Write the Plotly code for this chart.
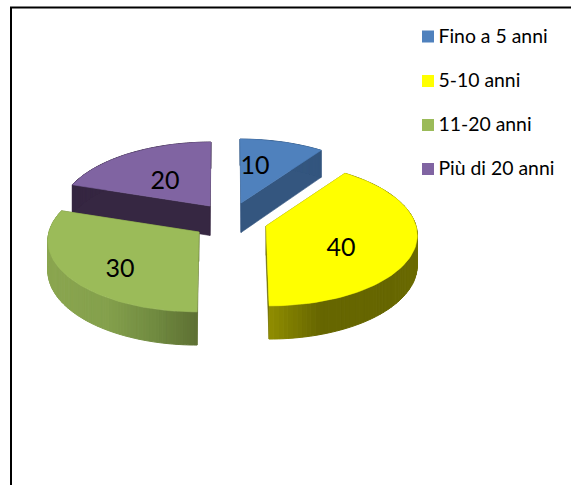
import math
import plotly.graph_objects as go

# --- data ---
categories = ["Fino a 5 anni", "5-10 anni", "11-20 anni", "Più di 20 anni"]
values = [10, 40, 30, 20]

# --- style / geometry of the exploded 3-D pie (pixel space) ---
top_colors = ["#4f81bd", "#ffff00", "#9bbb59", "#8064a2"]
face_colors = ["#34567f", "#666600", "#5f7033", "#362742"]
rim_stops = [
    [(0, "#34567f"), (1, "#34567f")],
    [(0, "#6c6c00"), (0.25, "#666600"), (0.7, "#666600"), (1, "#908d00")],
    [(0, "#8ba650"), (0.45, "#84a04c"), (0.75, "#708a40"), (1, "#5e7033")],
    [(0, "#362742"), (1, "#362742")],
]
centers = [(241, 203), (266, 226), (199, 232), (210, 206)]
label_offsets = [(14, -35), (75, 24), (-79, 39), (-45, -23)]
paint_order = [3, 0, 2, 1]
RX, RY, PERSP, DEPTH, VPX = 150, 71, 0.111, 29.5, 225
W, H = 571, 485


def hex2rgb(h):
    return [int(h[i:i + 2], 16) for i in (1, 3, 5)]


def stop_color(stops, t):
    for (t0, c0), (t1, c1) in zip(stops, stops[1:]):
        if t <= t1:
            f = 0 if t1 == t0 else (t - t0) / (t1 - t0)
            a, b = hex2rgb(c0), hex2rgb(c1)
            return "rgb(%d,%d,%d)" % tuple(round(a[i] + (b[i] - a[i]) * f) for i in range(3))
    return stops[-1][1]


def project(center, r, deg, down=False):
    """Perspective projection of a ground-plane point of a slice into pixels."""
    th = math.radians(deg)
    u, v = r * math.sin(th), -r * math.cos(th)
    s = 1 / (1 - PERSP * v)
    cx, cy = center
    x = cx + 0.6 * (cx - VPX) * (s - 1) + RX * u * s
    y = cy + RY * v * s + (DEPTH * s if down else 0)
    return x, y


def poly(points, color, lw=0.6):
    xs = [p[0] for p in points] + [points[0][0]]
    ys = [p[1] for p in points] + [points[0][1]]
    return go.Scatter(x=xs, y=ys, mode="lines", fill="toself", fillcolor=color,
                      line=dict(color=color, width=lw), hoverinfo="skip", showlegend=False)


fig = go.Figure()
total = sum(values)
angles = [0]
for val in values:
    angles.append(angles[-1] + 360 * val / total)

for i in paint_order:
    a0, a1, c = angles[i], angles[i + 1], centers[i]
    # cut faces
    for a in (a0, a1):
        fig.add_trace(poly([project(c, 0, a), project(c, 1, a),
                            project(c, 1, a, True), project(c, 0, a, True)], face_colors[i]))
    # rim, in small strips for the horizontal shading
    n = 90
    for k in range(n):
        b0 = a0 + (a1 - a0) * k / n
        b1 = a0 + (a1 - a0) * (k + 1) / n
        x_mid = math.sin(math.radians((b0 + b1) / 2))
        t = (k + .5) / n
        if i == 1:
            t = max(0.0, min(1.0, 1 - x_mid))
        elif i == 2:
            t = max(0.0, min(1.0, 1 + x_mid))
        fig.add_trace(poly([project(c, 1, b0), project(c, 1, b1),
                            project(c, 1, b1, True), project(c, 1, b0, True)],
                           stop_color(rim_stops[i], t), lw=1))
    # top surface
    pts = [project(c, 0, a0)] + [project(c, 1, a0 + (a1 - a0) * k / 72) for k in range(73)]
    fig.add_trace(poly(pts, top_colors[i]))

# value labels
fig.add_trace(go.Scatter(
    x=[centers[i][0] + label_offsets[i][0] for i in range(4)],
    y=[centers[i][1] + label_offsets[i][1] for i in range(4)],
    mode="text", text=[str(v) for v in values], textposition="middle center",
    textfont=dict(family="Lato", size=25, color="#000000"),
    hoverinfo="skip", showlegend=False))

# legend
legend_y = [36.5, 81, 125, 169]
text_y = [y + 1.5 for y in legend_y]
fig.add_trace(go.Scatter(x=[428] * 4, y=legend_y, mode="markers",
                         marker=dict(symbol="square", size=12, color=top_colors),
                         hoverinfo="skip", showlegend=False))
fig.add_trace(go.Scatter(x=[438.5] * 4, y=text_y, mode="text", text=categories,
                         textposition="middle right",
                         textfont=dict(family="Lato", size=19.4, color="#000000"),
                         hoverinfo="skip", showlegend=False))

fig.update_layout(
    width=W, height=H, autosize=False, margin=dict(l=0, r=0, t=0, b=0),
    paper_bgcolor="white", plot_bgcolor="white",
    xaxis=dict(range=[0, W], visible=False, fixedrange=True),
    yaxis=dict(range=[H, 0], visible=False, fixedrange=True),
    shapes=[
        dict(type="line", x0=11, x1=11, y0=7, y1=H, line=dict(color="black", width=2)),
        dict(type="line", x0=10, x1=W, y0=7.5, y1=7.5, line=dict(color="black", width=2)),
    ],
)
fig.write_html("out.html", config={"displayModeBar": False},
               post_script='document.body.style.margin="0";document.body.style.overflow="hidden";')
